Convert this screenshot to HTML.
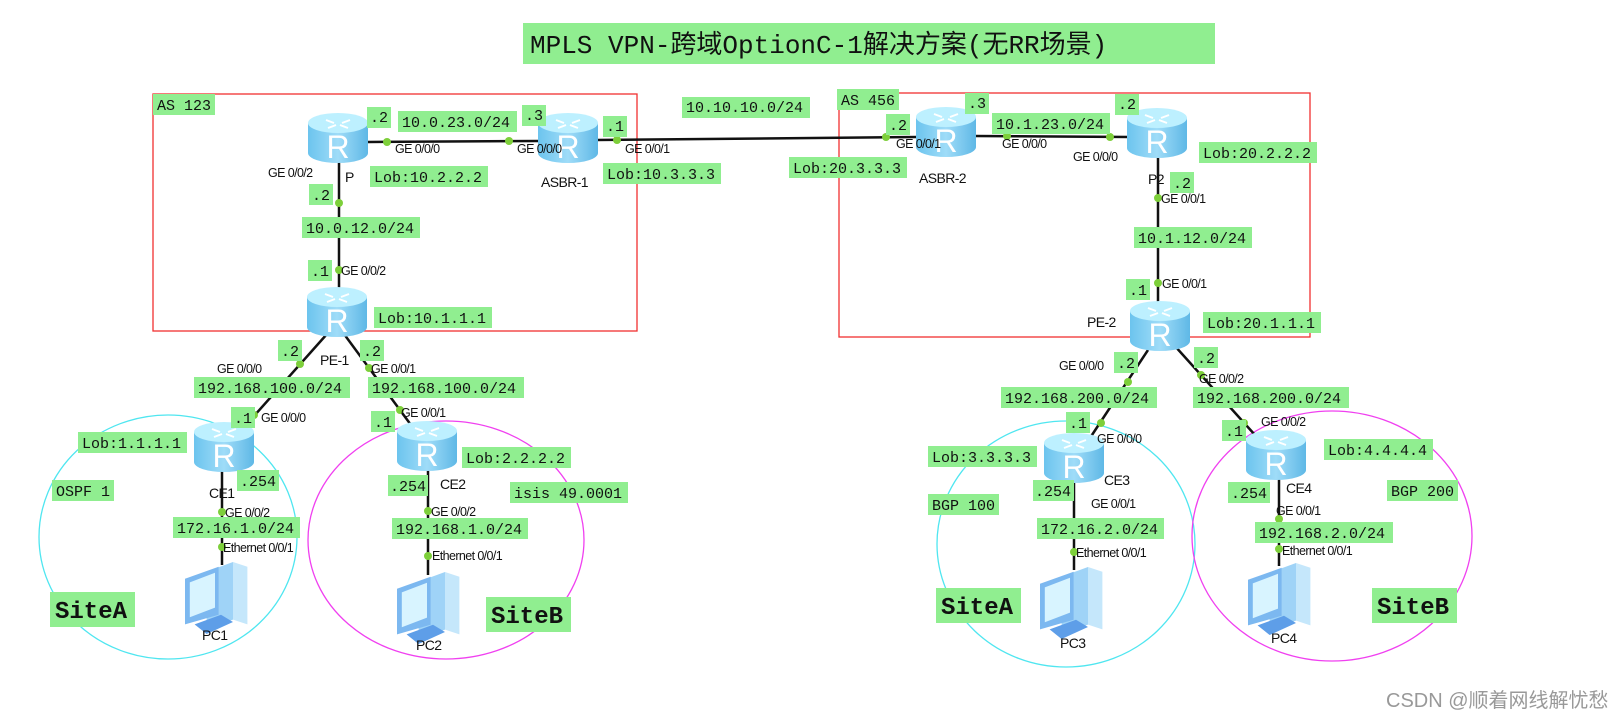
<!DOCTYPE html>
<html><head><meta charset="utf-8"><style>
html,body{margin:0;padding:0;background:#fff;}
svg{display:block;}
.l{fill:#90ee90;}
.m{font-family:"Liberation Mono",monospace;font-size:15px;fill:#111;}
.s{font-family:"Liberation Sans",sans-serif;font-size:12.5px;fill:#111;letter-spacing:-0.6px;}
.big{font-family:"Liberation Mono",monospace;font-size:24px;font-weight:bold;fill:#111;}
.r{font-family:"Liberation Sans",sans-serif;font-size:32px;fill:#fff;}
</style></head><body>
<svg width="1612" height="719" viewBox="0 0 1612 719" xmlns="http://www.w3.org/2000/svg">
<defs>
<linearGradient id="rb" x1="0" x2="1" y1="0" y2="0">
<stop offset="0" stop-color="#6cc4ee"/><stop offset="0.5" stop-color="#9fdcf8"/><stop offset="1" stop-color="#5fb8e6"/>
</linearGradient>
<g id="rt">
<rect x="-30" y="-15" width="60" height="30" fill="url(#rb)"/>
<ellipse cx="0" cy="15" rx="30" ry="10" fill="url(#rb)"/>
<ellipse cx="0" cy="-15" rx="30" ry="10" fill="#bdf0ff"/>
<path d="M-12,-18 l8,3 M12,-18 l-8,3 M-10,-10 l8,-3 M10,-10 l-8,-3" stroke="#fff" stroke-width="2"/>
<text x="0" y="20" text-anchor="middle" class="r">R</text>
</g>
<g id="pc" transform="scale(1.2)">
<polygon points="18,8 40,0 40,48 18,56" fill="#9fd3f7"/>
<polygon points="40,0 52,4 52,52 40,48" fill="#c5e7fb"/>
<polygon points="0,14 28,4 28,44 0,52" fill="#7cb8f0"/>
<polygon points="4,17 25,9 25,38 4,46" fill="#d8f4ff"/>
<polygon points="8,52 30,44 40,50 18,60" fill="#5e9ee8"/>
</g>
</defs>

<ellipse cx="168" cy="537" rx="129" ry="122" fill="none" stroke="#4fe6f0" stroke-width="1.3"/>
<ellipse cx="446" cy="540" rx="138" ry="119" fill="none" stroke="#f040f0" stroke-width="1.3"/>
<ellipse cx="1066" cy="544" rx="129" ry="123" fill="none" stroke="#4fe6f0" stroke-width="1.3"/>
<ellipse cx="1332" cy="536" rx="140" ry="125" fill="none" stroke="#f040f0" stroke-width="1.3"/>

<rect x="153" y="94" width="484" height="237" fill="none" stroke="#f03030" stroke-width="1.3"/>
<rect x="839" y="93" width="471" height="244" fill="none" stroke="#f03030" stroke-width="1.3"/>

<rect x="523" y="23" width="692" height="41" class="l"/>
<text x="530" y="53" style="font-family:'Liberation Mono','Noto Sans CJK SC',monospace;font-size:26px;fill:#111;">MPLS VPN-跨域OptionC-1解决方案(无RR场景)</text>

<g stroke="#111" stroke-width="2.5" fill="none">
<line x1="368" y1="142" x2="540" y2="141"/>
<line x1="596" y1="140" x2="918" y2="137"/>
<line x1="974" y1="136" x2="1130" y2="137"/>
<line x1="339" y1="160" x2="339" y2="290"/>
<line x1="1158" y1="158" x2="1158" y2="303"/>
<line x1="327" y1="334" x2="246" y2="425"/>
<line x1="344" y1="334" x2="411" y2="425"/>
<line x1="1148" y1="350" x2="1090" y2="438"/>
<line x1="1174" y1="345" x2="1255" y2="435"/>
<line x1="222" y1="470" x2="222" y2="565"/>
<line x1="428" y1="470" x2="428" y2="575"/>
<line x1="1074" y1="482" x2="1074" y2="570"/>
<line x1="1279" y1="478" x2="1279" y2="566"/>
</g>
<g fill="#7dcf3a">
<circle cx="387" cy="142" r="4"/><circle cx="509" cy="141" r="4"/><circle cx="617" cy="140" r="4"/>
<circle cx="886" cy="137" r="4"/><circle cx="1007" cy="136" r="4"/><circle cx="1110" cy="137" r="4"/>
<circle cx="339" cy="203" r="4"/><circle cx="339" cy="270" r="4"/>
<circle cx="1158" cy="198" r="4"/><circle cx="1158" cy="283" r="4"/>
<circle cx="300" cy="364" r="4"/><circle cx="254" cy="415" r="4"/>
<circle cx="369" cy="368" r="4"/><circle cx="400" cy="410" r="4"/>
<circle cx="1128" cy="382" r="4"/><circle cx="1101" cy="423" r="4"/>
<circle cx="1201" cy="375" r="4"/><circle cx="1244" cy="423" r="4"/>
<circle cx="222" cy="512" r="4"/><circle cx="222" cy="547" r="4"/>
<circle cx="428" cy="511" r="4"/><circle cx="428" cy="556" r="4"/>
<circle cx="1074" cy="523" r="4"/><circle cx="1074" cy="552" r="4"/>
<circle cx="1279" cy="519" r="4"/><circle cx="1279" cy="549" r="4"/>
</g>

<use href="#rt" x="338" y="138"/>
<use href="#rt" x="568" y="138"/>
<use href="#rt" x="946" y="132"/>
<use href="#rt" x="1157" y="133"/>
<use href="#rt" x="337" y="312"/>
<use href="#rt" x="1160" y="326"/>
<use href="#rt" x="224" y="447"/>
<use href="#rt" x="427" y="446"/>
<use href="#rt" x="1074" y="458"/>
<use href="#rt" x="1276" y="455"/>

<use href="#pc" x="185" y="562"/>
<use href="#pc" x="397" y="572"/>
<use href="#pc" x="1040" y="567"/>
<use href="#pc" x="1248" y="563"/>

<g class="l">
<rect x="153" y="94" width="62" height="21"/>
<rect x="367" y="107" width="24" height="21"/>
<rect x="398" y="111" width="119" height="21"/>
<rect x="522" y="105" width="24" height="21"/>
<rect x="603" y="116" width="24" height="21"/>
<rect x="682" y="97" width="128" height="21"/>
<rect x="370" y="166" width="118" height="21"/>
<rect x="603" y="163" width="118" height="21"/>
<rect x="309" y="184" width="24" height="21"/>
<rect x="302" y="217" width="118" height="21"/>
<rect x="308" y="260" width="24" height="21"/>
<rect x="374" y="307" width="118" height="21"/>
<rect x="837" y="89" width="62" height="21"/>
<rect x="886" y="114" width="24" height="21"/>
<rect x="965" y="93" width="24" height="21"/>
<rect x="992" y="113" width="118" height="21"/>
<rect x="1115" y="94" width="24" height="21"/>
<rect x="789" y="157" width="118" height="21"/>
<rect x="1199" y="142" width="118" height="21"/>
<rect x="1170" y="172" width="24" height="21"/>
<rect x="1134" y="227" width="118" height="21"/>
<rect x="1126" y="279" width="24" height="21"/>
<rect x="1203" y="312" width="118" height="21"/>
<rect x="278" y="340" width="24" height="21"/>
<rect x="360" y="340" width="24" height="21"/>
<rect x="194" y="377" width="156" height="21"/>
<rect x="368" y="377" width="156" height="21"/>
<rect x="231" y="407" width="24" height="21"/>
<rect x="371" y="411" width="24" height="21"/>
<rect x="78" y="432" width="109" height="21"/>
<rect x="237" y="470" width="42" height="21"/>
<rect x="52" y="480" width="62" height="21"/>
<rect x="462" y="447" width="109" height="21"/>
<rect x="388" y="475" width="40" height="21"/>
<rect x="510" y="482" width="118" height="21"/>
<rect x="173" y="517" width="127" height="21"/>
<rect x="392" y="518" width="136" height="21"/>
<rect x="50" y="592" width="85" height="35"/>
<rect x="486" y="597" width="85" height="35"/>
<rect x="1114" y="352" width="24" height="21"/>
<rect x="1001" y="387" width="156" height="21"/>
<rect x="1066" y="412" width="24" height="21"/>
<rect x="928" y="446" width="109" height="21"/>
<rect x="1033" y="480" width="41" height="21"/>
<rect x="928" y="494" width="71" height="21"/>
<rect x="1037" y="518" width="127" height="21"/>
<rect x="936" y="588" width="85" height="35"/>
<rect x="1194" y="347" width="24" height="21"/>
<rect x="1193" y="387" width="156" height="21"/>
<rect x="1222" y="420" width="24" height="21"/>
<rect x="1324" y="439" width="109" height="21"/>
<rect x="1228" y="482" width="42" height="21"/>
<rect x="1387" y="480" width="71" height="21"/>
<rect x="1255" y="522" width="138" height="21"/>
<rect x="1372" y="588" width="85" height="35"/>
</g>
<g class="m">
<text x="157" y="110">AS 123</text>
<text x="370" y="122">.2</text>
<text x="402" y="127">10.0.23.0/24</text>
<text x="525" y="120">.3</text>
<text x="606" y="131">.1</text>
<text x="686" y="112">10.10.10.0/24</text>
<text x="374" y="182">Lob:10.2.2.2</text>
<text x="607" y="179">Lob:10.3.3.3</text>
<text x="312" y="200">.2</text>
<text x="306" y="233">10.0.12.0/24</text>
<text x="311" y="276">.1</text>
<text x="378" y="323">Lob:10.1.1.1</text>
<text x="841" y="105">AS 456</text>
<text x="889" y="130">.2</text>
<text x="968" y="108">.3</text>
<text x="996" y="129">10.1.23.0/24</text>
<text x="1118" y="109">.2</text>
<text x="793" y="173">Lob:20.3.3.3</text>
<text x="1203" y="158">Lob:20.2.2.2</text>
<text x="1173" y="188">.2</text>
<text x="1138" y="243">10.1.12.0/24</text>
<text x="1129" y="295">.1</text>
<text x="1207" y="328">Lob:20.1.1.1</text>
<text x="281" y="356">.2</text>
<text x="363" y="356">.2</text>
<text x="198" y="393">192.168.100.0/24</text>
<text x="372" y="393">192.168.100.0/24</text>
<text x="234" y="423">.1</text>
<text x="374" y="427">.1</text>
<text x="82" y="448">Lob:1.1.1.1</text>
<text x="240" y="486">.254</text>
<text x="56" y="496">OSPF 1</text>
<text x="466" y="463">Lob:2.2.2.2</text>
<text x="390" y="491">.254</text>
<text x="514" y="498">isis 49.0001</text>
<text x="177" y="533">172.16.1.0/24</text>
<text x="396" y="534">192.168.1.0/24</text>
<text x="1117" y="368">.2</text>
<text x="1005" y="403">192.168.200.0/24</text>
<text x="1069" y="428">.1</text>
<text x="932" y="462">Lob:3.3.3.3</text>
<text x="1035" y="496">.254</text>
<text x="932" y="510">BGP 100</text>
<text x="1041" y="534">172.16.2.0/24</text>
<text x="1197" y="363">.2</text>
<text x="1197" y="403">192.168.200.0/24</text>
<text x="1225" y="436">.1</text>
<text x="1328" y="455">Lob:4.4.4.4</text>
<text x="1231" y="498">.254</text>
<text x="1391" y="496">BGP 200</text>
<text x="1259" y="538">192.168.2.0/24</text>
</g>
<g class="big">
<text x="55" y="618">SiteA</text>
<text x="491" y="623">SiteB</text>
<text x="941" y="614">SiteA</text>
<text x="1377" y="614">SiteB</text>
</g>
<g class="s">
<text x="395" y="153">GE 0/0/0</text>
<text x="517" y="153">GE 0/0/0</text>
<text x="625" y="153">GE 0/0/1</text>
<text x="268" y="177">GE 0/0/2</text>
<text x="345" y="182" style="font-size:14px">P</text>
<text x="541" y="187" style="font-size:14px">ASBR-1</text>
<text x="341" y="275">GE 0/0/2</text>
<text x="320" y="365" style="font-size:14px">PE-1</text>
<text x="217" y="373">GE 0/0/0</text>
<text x="371" y="373">GE 0/0/1</text>
<text x="261" y="422">GE 0/0/0</text>
<text x="401" y="417">GE 0/0/1</text>
<text x="209" y="498" style="font-size:14px">CE1</text>
<text x="440" y="489" style="font-size:14px">CE2</text>
<text x="225" y="517">GE 0/0/2</text>
<text x="223" y="552">Ethernet 0/0/1</text>
<text x="431" y="516">GE 0/0/2</text>
<text x="432" y="560">Ethernet 0/0/1</text>
<text x="202" y="640" style="font-size:14px">PC1</text>
<text x="416" y="650" style="font-size:14px">PC2</text>
<text x="896" y="148">GE 0/0/1</text>
<text x="919" y="183" style="font-size:14px">ASBR-2</text>
<text x="1002" y="148">GE 0/0/0</text>
<text x="1073" y="161">GE 0/0/0</text>
<text x="1148" y="184" style="font-size:14px">P2</text>
<text x="1161" y="203">GE 0/0/1</text>
<text x="1162" y="288">GE 0/0/1</text>
<text x="1087" y="327" style="font-size:14px">PE-2</text>
<text x="1059" y="370">GE 0/0/0</text>
<text x="1097" y="443">GE 0/0/0</text>
<text x="1104" y="485" style="font-size:14px">CE3</text>
<text x="1091" y="508">GE 0/0/1</text>
<text x="1076" y="557">Ethernet 0/0/1</text>
<text x="1199" y="383">GE 0/0/2</text>
<text x="1261" y="426">GE 0/0/2</text>
<text x="1286" y="493" style="font-size:14px">CE4</text>
<text x="1276" y="515">GE 0/0/1</text>
<text x="1282" y="555">Ethernet 0/0/1</text>
<text x="1060" y="648" style="font-size:14px">PC3</text>
<text x="1271" y="643" style="font-size:14px">PC4</text>
</g>
<text x="1386" y="707" style="font-family:'Liberation Sans','Noto Sans CJK SC',sans-serif;font-size:20px;fill:#999;">CSDN @顺着网线解忧愁</text>
</svg>
</body></html>
